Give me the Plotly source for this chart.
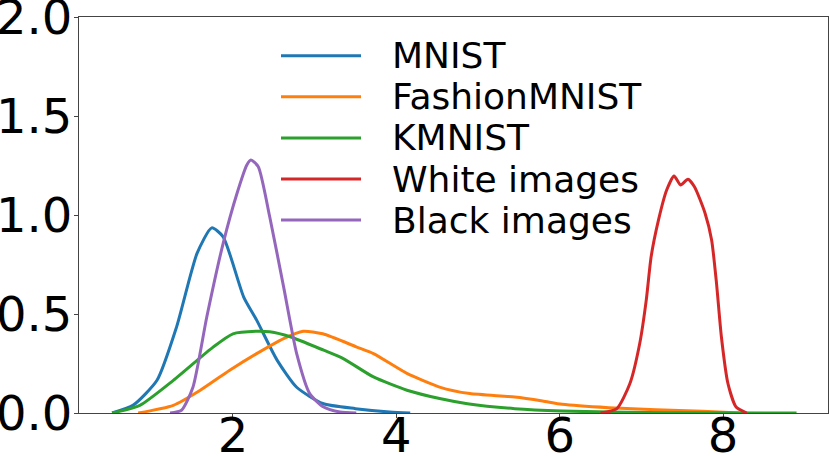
import plotly.graph_objects as go

# density estimates
mnist_x = [0.52, 0.78, 1.07, 1.31, 1.56, 1.74, 1.88, 2.13, 2.29, 2.54, 2.78, 3.1, 3.5, 3.92, 4.17]
mnist_y = [0.0, 0.04, 0.165, 0.435, 0.806, 0.935, 0.89, 0.587, 0.469, 0.267, 0.13, 0.048, 0.022, 0.005, 0.0]

fashion_x = [0.84, 1.27, 1.6, 1.96, 2.29, 2.62, 2.86, 3.1, 3.51, 3.72, 4.13, 4.53, 4.9, 5.45, 5.79, 6.03, 6.6, 7.18, 7.75, 8.2]
fashion_y = [0.0, 0.039, 0.115, 0.216, 0.3, 0.376, 0.413, 0.4, 0.334, 0.3, 0.2, 0.131, 0.098, 0.081, 0.061, 0.044, 0.027, 0.017, 0.009, 0.0]

kmnist_x = [0.52, 0.86, 1.27, 1.76, 2.0, 2.29, 2.45, 2.7, 3.11, 3.35, 3.72, 4.13, 4.53, 4.87, 5.45, 6.03, 6.6, 7.5, 8.9]
kmnist_y = [0.0, 0.039, 0.165, 0.334, 0.4, 0.413, 0.41, 0.385, 0.317, 0.275, 0.182, 0.115, 0.073, 0.047, 0.022, 0.01, 0.005, 0.001, 0.0]

white_x = [6.5, 6.7, 6.86, 6.98, 7.06, 7.12, 7.21, 7.31, 7.4, 7.48, 7.57, 7.65, 7.78, 7.86, 7.92, 7.98, 8.06, 8.16, 8.29]
white_y = [0.0, 0.022, 0.149, 0.351, 0.57, 0.79, 0.975, 1.126, 1.197, 1.152, 1.18, 1.143, 1.009, 0.874, 0.655, 0.384, 0.149, 0.03, 0.0]

black_x = [1.23, 1.37, 1.51, 1.68, 1.88, 2.05, 2.17, 2.22, 2.31, 2.45, 2.62, 2.78, 2.94, 3.11, 3.31, 3.51]
black_y = [0.0, 0.014, 0.13, 0.486, 0.857, 1.11, 1.253, 1.278, 1.244, 0.991, 0.637, 0.3, 0.098, 0.03, 0.005, 0.0]

names = ['MNIST', 'FashionMNIST', 'KMNIST', 'White images', 'Black images']
colors = ['#1f77b4', '#ff7f0e', '#2ca02c', '#d62728', '#9467bd']
series = [(mnist_x, mnist_y), (fashion_x, fashion_y), (kmnist_x, kmnist_y),
          (white_x, white_y), (black_x, black_y)]

W, H = 830, 456
L, R, T, B = 79, 2, 17, 43
pw, ph = W - L - R, H - T - B

fig = go.Figure()
for (xs, ys), name, c in zip(series, names, colors):
    fig.add_trace(go.Scatter(x=xs, y=ys, mode='lines', name=name,
                             line=dict(color=c, width=3, shape='spline', smoothing=0.6),
                             showlegend=False))

# legend drawn by hand so the sample lines are as long as matplotlib's
def px_x(p):
    return (p - L) / pw

def px_y(p):
    return (H - B - p) / ph

row0, step = 55.7, 41.1
for i, (name, c) in enumerate(zip(names, colors)):
    yy = px_y(row0 + i * step)
    fig.add_shape(type='line', xref='paper', yref='paper',
                  x0=px_x(281), x1=px_x(361), y0=yy, y1=yy,
                  line=dict(color=c, width=3))
    fig.add_annotation(xref='paper', yref='paper', x=px_x(390), y=yy,
                       text=name, showarrow=False, xanchor='left', yanchor='middle',
                       font=dict(size=36, color='black'))

axis_style = dict(showline=True, linecolor='#444', linewidth=1, mirror=True,
                  ticks='outside', ticklen=4, tickcolor='#444', showgrid=False,
                  zeroline=False, automargin=False, ticklabeloverflow='allow',
                  tickfont=dict(size=48, color='black'))

fig.update_xaxes(range=[0.115, 9.285], tickvals=[2, 4, 6, 8],
                 ticklabelstandoff=-24, **axis_style)
fig.update_yaxes(range=[0, 2.0], tickvals=[0, 0.5, 1.0, 1.5, 2.0],
                 tickformat='.1f', ticklabelstandoff=-8, **axis_style)

fig.update_layout(width=W, height=H, margin=dict(l=L, r=R, t=T, b=B),
                  plot_bgcolor='white', paper_bgcolor='white',
                  font=dict(family='DejaVu Sans'))

# drop the browser's default body margin so the figure fills the window
fig.write_html('out.html', config={'displayModeBar': False},
               post_script="document.body.style.margin='0';document.body.style.overflow='hidden';")
